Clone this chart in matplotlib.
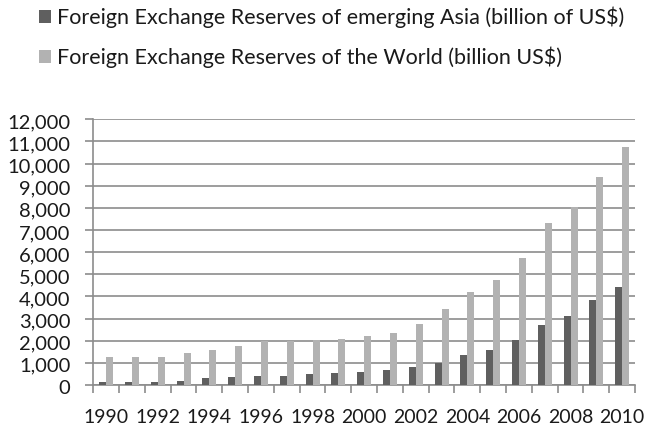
import matplotlib
matplotlib.use("Agg")
import matplotlib.pyplot as plt
import matplotlib.transforms as mtransforms
from matplotlib.patches import Patch
import numpy as np

years = list(range(1990, 2011))
asia_reserves = [150, 150, 150, 200, 300, 360, 410, 410, 510, 560, 600,
                 660, 810, 1010, 1370, 1580, 2020, 2700, 3100, 3830, 4430]
world_reserves = [1280, 1280, 1280, 1430, 1580, 1780, 2000, 2000, 2030, 2080, 2230,
                  2330, 2760, 3450, 4190, 4730, 5750, 7330, 8060, 9380, 10750]
series_labels = ["Foreign Exchange Reserves of emerging Asia (billion of US\\$)",
                 "Foreign Exchange Reserves of the World (billion US\\$)"]
y_ticks = list(range(0, 12001, 1000))

plt.rcParams['font.family'] = ['Lato', 'DejaVu Sans']

fig = plt.figure(figsize=(6.48, 4.29), dpi=100)
ax = fig.add_axes([0.144, 0.1026, 0.836, 0.6194])

dark = "#5f5f5f"
light = "#b2b2b2"
grid = "#8c8c8c"
text_color = "#1a1a1a"

x = np.arange(len(years))
w = 0.27
ax.bar(x - w / 2, asia_reserves, width=w, color=dark, zorder=3)
ax.bar(x + w / 2, world_reserves, width=w, color=light, zorder=3)

ax.set_xlim(-0.5, len(years) - 0.5)
ax.set_ylim(0, 12000)
ax.set_yticks(y_ticks)
ax.set_yticklabels([f"{v:,}" for v in y_ticks], fontsize=14.5, color=text_color)
ax.yaxis.grid(True, color=grid, linewidth=1.2, zorder=0)
ax.set_axisbelow(True)

ax.set_xticks(x[::2])
ax.set_xticklabels([str(y) for y in years[::2]], fontsize=14, color=text_color)
ax.set_xticks(np.arange(-0.5, len(years), 1), minor=True)
ax.tick_params(axis='x', which='major', length=0, pad=17)
ax.tick_params(axis='x', which='minor', length=6, color=grid, width=1.2)
ax.tick_params(axis='y', length=6, color=grid, width=1.2, pad=10.5)

# nudge the value labels slightly below their gridlines
shift = mtransforms.ScaledTranslation(0, -2 / 100, fig.dpi_scale_trans)
for lbl in ax.get_yticklabels():
    lbl.set_transform(lbl.get_transform() + shift)

for side in ['top', 'right']:
    ax.spines[side].set_visible(False)
ax.spines['left'].set_color(grid)
ax.spines['left'].set_linewidth(1.2)
ax.spines['bottom'].set_color(grid)
ax.spines['bottom'].set_linewidth(1.2)

handles = [Patch(facecolor=dark), Patch(facecolor=light)]
fig.legend(handles, series_labels, loc='upper left', bbox_to_anchor=(0.0503, 1.0),
           frameon=False, fontsize=15.5, handlelength=0.55, handleheight=0.55,
           handletextpad=0.3, labelspacing=0.88, borderaxespad=0.0, borderpad=0.3,
           labelcolor=text_color)

fig.savefig("out.png", dpi=100)
